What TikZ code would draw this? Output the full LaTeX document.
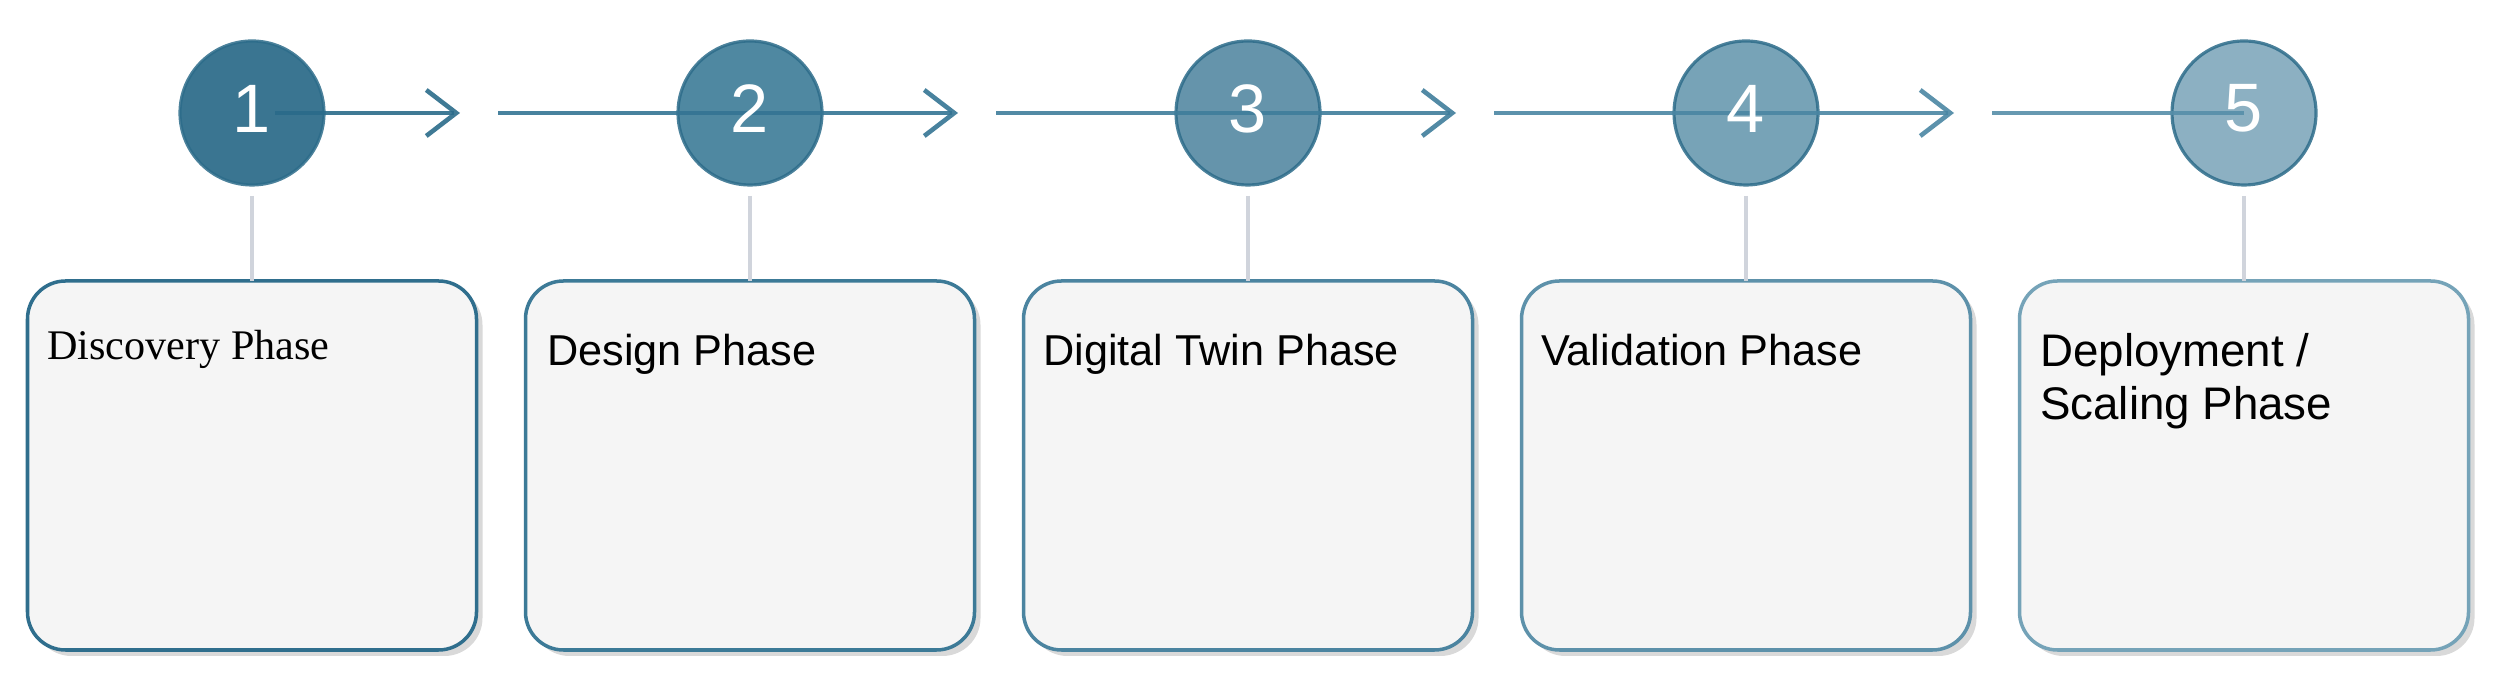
\documentclass[tikz,border=0pt]{standalone}
\usepackage{fontspec}
\setmainfont{Liberation Sans}
\newfontfamily\discfont{Liberation Serif}
\usetikzlibrary{arrows.meta,positioning,shadows}

\definecolor{numA}{HTML}{3A7591}
\definecolor{numB}{HTML}{4F88A1}
\definecolor{numC}{HTML}{6594AB}
\definecolor{numD}{HTML}{77A3B7}
\definecolor{numE}{HTML}{8CB0C2}
\definecolor{numedge}{HTML}{2D6C8A}
\definecolor{lineA}{HTML}{2A6B8A}
\definecolor{lineB}{HTML}{347493}
\definecolor{lineC}{HTML}{3F7D9B}
\definecolor{lineD}{HTML}{4A86A3}
\definecolor{lineE}{HTML}{568EA9}
\definecolor{edgeA}{HTML}{2F6E8D}
\definecolor{edgeB}{HTML}{3C7A97}
\definecolor{edgeC}{HTML}{4B84A0}
\definecolor{edgeD}{HTML}{5D91AA}
\definecolor{edgeE}{HTML}{75A3B8}
\definecolor{boxfill}{HTML}{F5F5F5}
\definecolor{stemgrey}{HTML}{D0D4DC}

\tikzset{
  phasenum/.style={circle, minimum size=1.44cm, inner sep=0pt, outer sep=0pt,
    draw=numedge, draw opacity=0.85, line width=0.9pt},
  digit/.style={text=white, inner sep=0pt, yshift=0.045cm,
    font=\fontsize{19.5}{20}\selectfont},
  phasebox/.style={rectangle, rounded corners=0.38cm, minimum width=4.49cm,
    minimum height=3.69cm, inner sep=0pt, outer sep=0pt, fill=boxfill,
    line width=1pt,
    drop shadow={shadow xshift=0.06cm, shadow yshift=-0.06cm, opacity=0.3}},
  phasetext/.style={anchor=north west, inner sep=0pt, align=left,
    font=\fontsize{12.3}{15}\selectfont},
  flow/.style={line width=1.3pt, draw opacity=0.9,
    -{Straight Barb[length=3mm, width=4.6mm]}},
  stem/.style={draw=stemgrey, line width=0.9pt}
}

\begin{document}
\begin{tikzpicture}[node distance=3.54cm]
  \useasboundingbox (0,0) rectangle (25,-6.97);

  % circles
  \node [phasenum, fill=numA] (num1) at (2.52,-1.13) {};
  \node [phasenum, fill=numB] (num2) [right = of num1] {};
  \node [phasenum, fill=numC] (num3) [right = of num2] {};
  \node [phasenum, fill=numD] (num4) [right = of num3] {};
  \node [phasenum, fill=numE] (num5) [right = of num4] {};

  % boxes
  \node [phasebox, draw=edgeA] (box1) [below = 0.96cm of num1] {};
  \node [phasebox, draw=edgeB] (box2) [below = 0.96cm of num2] {};
  \node [phasebox, draw=edgeC] (box3) [below = 0.96cm of num3] {};
  \node [phasebox, draw=edgeD] (box4) [below = 0.96cm of num4] {};
  \node [phasebox, draw=edgeE] (box5) [below = 0.96cm of num5] {};

  \node [phasetext, font=\discfont\fontsize{12}{15}\selectfont] (name1)
    at ([xshift=0.19cm, yshift=-0.49cm]box1.north west) {Discovery Phase};
  \node [phasetext] (name2) at ([xshift=0.21cm, yshift=-0.52cm]box2.north west) {Design Phase};
  \node [phasetext] (name3) at ([xshift=0.19cm, yshift=-0.52cm]box3.north west) {Digital Twin Phase};
  \node [phasetext] (name4) at ([xshift=0.19cm, yshift=-0.52cm]box4.north west) {Validation Phase};
  \node [phasetext, font=\fontsize{13}{15}\selectfont] (name5)
    at ([xshift=0.20cm, yshift=-0.52cm]box5.north west) {Deployment /\\Scaling Phase};

  \draw [stem] ([yshift=-0.11cm]num1.south) -- (box1);
  \draw [stem] ([yshift=-0.11cm]num2.south) -- (box2);
  \draw [stem] ([yshift=-0.11cm]num3.south) -- (box3);
  \draw [stem] ([yshift=-0.11cm]num4.south) -- (box4);
  \draw [stem] ([yshift=-0.11cm]num5.south) -- (box5);

  % flow line
  \draw [flow, draw=lineA] ([xshift=0.23cm]num1.center) -- ([xshift=2.08cm]num1.center);
  \draw [flow, draw=lineB] ([xshift=-2.52cm]num2.center) -- ([xshift=2.08cm]num2.center);
  \draw [flow, draw=lineC] ([xshift=-2.52cm]num3.center) -- ([xshift=2.08cm]num3.center);
  \draw [flow, draw=lineD] ([xshift=-2.52cm]num4.center) -- ([xshift=2.08cm]num4.center);
  \draw [flow, -, draw=lineE] ([xshift=-2.52cm]num5.center) -- (num5.center);

  \node [digit] (d1) at (num1) {1};
  \node [digit] (d2) at (num2) {2};
  \node [digit] (d3) at (num3) {3};
  \node [digit] (d4) at (num4) {4};
  \node [digit] (d5) at (num5) {5};
\end{tikzpicture}
\end{document}
